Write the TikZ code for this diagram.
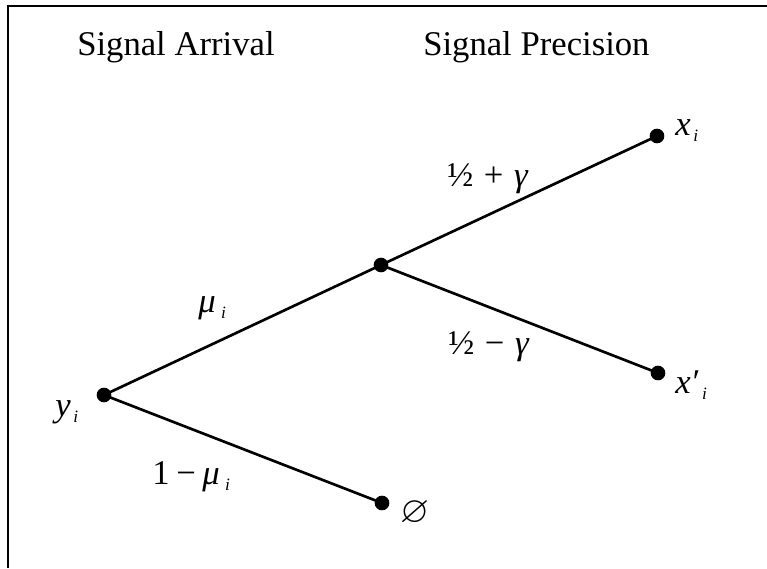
\documentclass[tikz,border=0pt]{standalone}
\usepackage{fontspec}
\usepackage{amssymb}
\setmainfont{Liberation Serif}
\newcommand\sbi{\raisebox{-4.5pt}{\fontsize{13}{15}\selectfont\itshape i}}
\begin{document}
\begin{tikzpicture}[x=0.75pt,y=-0.75pt,
  dot/.style={circle,fill=black,inner sep=0pt,minimum size=11pt},
  edge/.style={line width=2pt},
  frame/.style={line width=1.8pt},
  lab/.style={inner sep=0pt,anchor=base west,font=\fontsize{26}{30}\selectfont}]
\useasboundingbox (0,0) rectangle (767,568);
\coordinate (fr) at (767,6);
\coordinate (fc) at (8,6);
\coordinate (fb) at (8,568);
\draw[frame] (fr) -- (fc) -- (fb);
% titles
\node[lab] (t1) at (77,55) {Signal Arrival};
\node[lab] (t2) at (423,55) {Signal Precision};
% tree nodes
\node[dot] (Y) at (104,395) {};
\node[dot] (M) at (381,265) {};
\node[dot] (X) at (657,136) {};
\node[dot] (XP) at (658,373) {};
\node[dot] (E) at (382,503) {};
\draw[edge] (Y.center) -- (M.center);
\draw[edge] (Y.center) -- (E.center);
\draw[edge] (M.center) -- (X.center);
\draw[edge] (M.center) -- (XP.center);
% node labels
\node[lab] (ly) at (55,416) {\itshape y\hspace{2pt}\sbi};
\node[lab] (lx) at (675,135) {\itshape x\hspace{2pt}\sbi};
\node[lab] (lxp) at (675,393) {\itshape x′\hspace{3pt}\sbi};
\node[inner sep=0pt,font=\fontsize{28}{32}\selectfont] (le) at (415,513) {$\varnothing$};
% edge labels
\node[lab] (lmu) at (198,312) {\itshape μ\hspace{4pt}\sbi};
\node[lab] (l1mu) at (152,484) {1\hspace{5pt}−\hspace{5pt}\textit{μ}\hspace{4pt}\sbi};
\node[lab] (lpg) at (447,186) {½\hspace{8pt}+\hspace{8pt}\textit{γ}};
\node[lab] (lmg) at (448,354) {½\hspace{8pt}−\hspace{8pt}\textit{γ}};
\end{tikzpicture}
\end{document}
